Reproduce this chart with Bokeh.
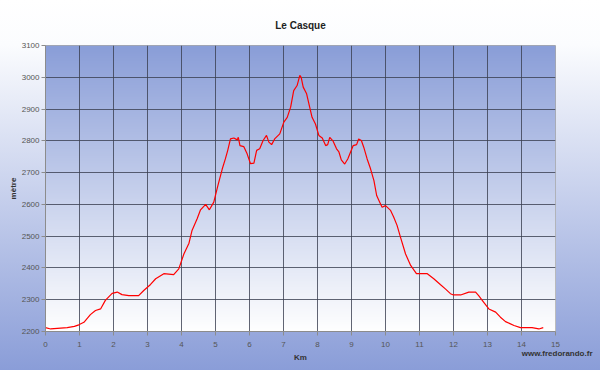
import numpy as np
from bokeh.plotting import figure
from bokeh.models import Range1d, FixedTicker, Title
from bokeh.embed import file_html
from bokeh.resources import INLINE

title_text = "Le Casque"
x_label = "Km"
y_label = "mètre"
credit = "www.fredorando.fr"

km = [0.0, 0.15, 0.35, 0.64, 0.85, 0.98, 1.13, 1.32, 1.47, 1.62, 1.76, 1.96, 2.11, 2.25, 2.45,
      2.74, 2.89, 3.09, 3.24, 3.48, 3.77, 3.92, 4.07, 4.22, 4.31, 4.46, 4.56, 4.71, 4.82, 4.95,
      5.07, 5.2, 5.29, 5.36, 5.44, 5.54, 5.64, 5.67, 5.72, 5.83, 5.93, 6.03, 6.13, 6.21, 6.3,
      6.4, 6.5, 6.57, 6.65, 6.74, 6.89, 7.01, 7.11, 7.21, 7.3, 7.4, 7.48, 7.52, 7.58, 7.68,
      7.77, 7.84, 7.94, 8.04, 8.14, 8.24, 8.3, 8.36, 8.46, 8.56, 8.63, 8.7, 8.8, 8.89, 8.97,
      9.05, 9.15, 9.21, 9.29, 9.36, 9.46, 9.56, 9.66, 9.74, 9.83, 9.9, 10.0, 10.15, 10.24, 10.34,
      10.44, 10.59, 10.74, 10.91, 11.08, 11.23, 11.42, 11.62, 11.76, 11.91, 12.0, 12.21, 12.45,
      12.65, 12.74, 12.89, 13.04, 13.24, 13.38, 13.53, 13.78, 13.97, 14.31, 14.51, 14.64]
alt = [2212, 2208, 2210, 2212, 2216, 2221, 2229, 2253, 2266, 2271, 2298, 2320, 2324, 2316, 2313,
       2313, 2329, 2348, 2366, 2382, 2379, 2397, 2444, 2478, 2518, 2555, 2583, 2600, 2583, 2607,
       2659, 2712, 2743, 2770, 2806, 2809, 2803, 2811, 2785, 2782, 2759, 2728, 2730, 2770, 2775,
       2801, 2817, 2796, 2788, 2806, 2822, 2859, 2874, 2906, 2958, 2974, 3006, 3000, 2969, 2948,
       2906, 2874, 2853, 2817, 2809, 2785, 2788, 2811, 2799, 2775, 2765, 2740, 2727, 2743, 2764,
       2785, 2788, 2806, 2801, 2780, 2743, 2712, 2675, 2628, 2607, 2591, 2596, 2581, 2560, 2534,
       2497, 2444, 2408, 2382, 2382, 2382, 2366, 2347, 2334, 2319, 2315, 2315, 2324,
       2324, 2313, 2292, 2271, 2261, 2245, 2231, 2219, 2212, 2212, 2208, 2212]

x_ticks = list(range(0, 16))
y_ticks = list(range(2200, 3101, 100))

p = figure(width=600, height=370, output_backend="svg", toolbar_location=None,
           x_range=Range1d(0, 15), y_range=Range1d(2200, 3100),
           min_border_left=45, min_border_right=45, min_border_top=45, min_border_bottom=39)
p.styles = {"background": "linear-gradient(to bottom, #ffffff 0%, #fbfcfe 12%, #8a9dd8 100%)"}
p.border_fill_color = None
p.background_fill_color = "#ffffff"
p.outline_line_color = "#a8a8a8"

# plot-area vertical gradient (blue top -> white bottom)
n = 300
top = np.array([138, 158, 216], dtype=float)
bot = np.array([255, 255, 255], dtype=float)
t = np.linspace(0, 1, n)[:, None]  # 0 bottom, 1 top
cols = (bot + (top - bot) * t).astype(np.uint32)
img = np.empty((n, 2), dtype=np.uint32)
view = img.view(dtype=np.uint8).reshape((n, 2, 4))
view[:, :, 0] = cols[:, 0:1]
view[:, :, 1] = cols[:, 1:2]
view[:, :, 2] = cols[:, 2:3]
view[:, :, 3] = 255
r = p.image_rgba(image=[img], x=0, y=2200, dw=15, dh=900)
r.level = "image"

p.line(km, alt, line_color="#ff0000", line_width=1.2)

p.title.text = title_text
p.title.align = "center"
p.title.text_font = "Liberation Sans"
p.title.text_font_size = "10px"
p.title.text_font_style = "bold"
p.title.text_color = "#222222"
p.title.standoff = 30

for ax in (p.xaxis[0], p.yaxis[0]):
    ax.axis_line_color = "#8c8c8c"
    ax.major_tick_line_color = "#8c8c8c"
    ax.major_tick_in = 0
    ax.major_tick_out = 4
    ax.minor_tick_line_color = None
    ax.major_label_text_font = "Liberation Sans"
    ax.major_label_text_font_size = "8px"
    ax.major_label_text_color = "#555555"
    ax.axis_label_text_font = "Liberation Sans"
    ax.axis_label_text_font_size = "8px"
    ax.axis_label_text_font_style = "bold"
    ax.axis_label_text_color = "#333333"

p.xaxis.ticker = FixedTicker(ticks=x_ticks)
p.yaxis.ticker = FixedTicker(ticks=y_ticks)
p.xaxis.axis_label = x_label
p.yaxis.axis_label = y_label
p.xaxis.major_label_standoff = 6
p.yaxis.major_label_standoff = 2
p.xaxis.axis_label_standoff = 3
p.yaxis.axis_label_standoff = 1

for g in (p.xgrid[0], p.ygrid[0]):
    g.grid_line_color = "#3a3f50"
    g.grid_line_alpha = 0.8
    g.grid_line_width = 1
p.xgrid.ticker = FixedTicker(ticks=x_ticks)
p.ygrid.ticker = FixedTicker(ticks=y_ticks)

credit_title = Title(text=credit, align="right", vertical_align="top", offset=-37, standoff=-32,
                     text_font="Liberation Sans", text_font_size="8px",
                     text_font_style="bold", text_color="#333333")
p.add_layout(credit_title, "below")

open("out.html", "w").write(file_html(p, INLINE))
